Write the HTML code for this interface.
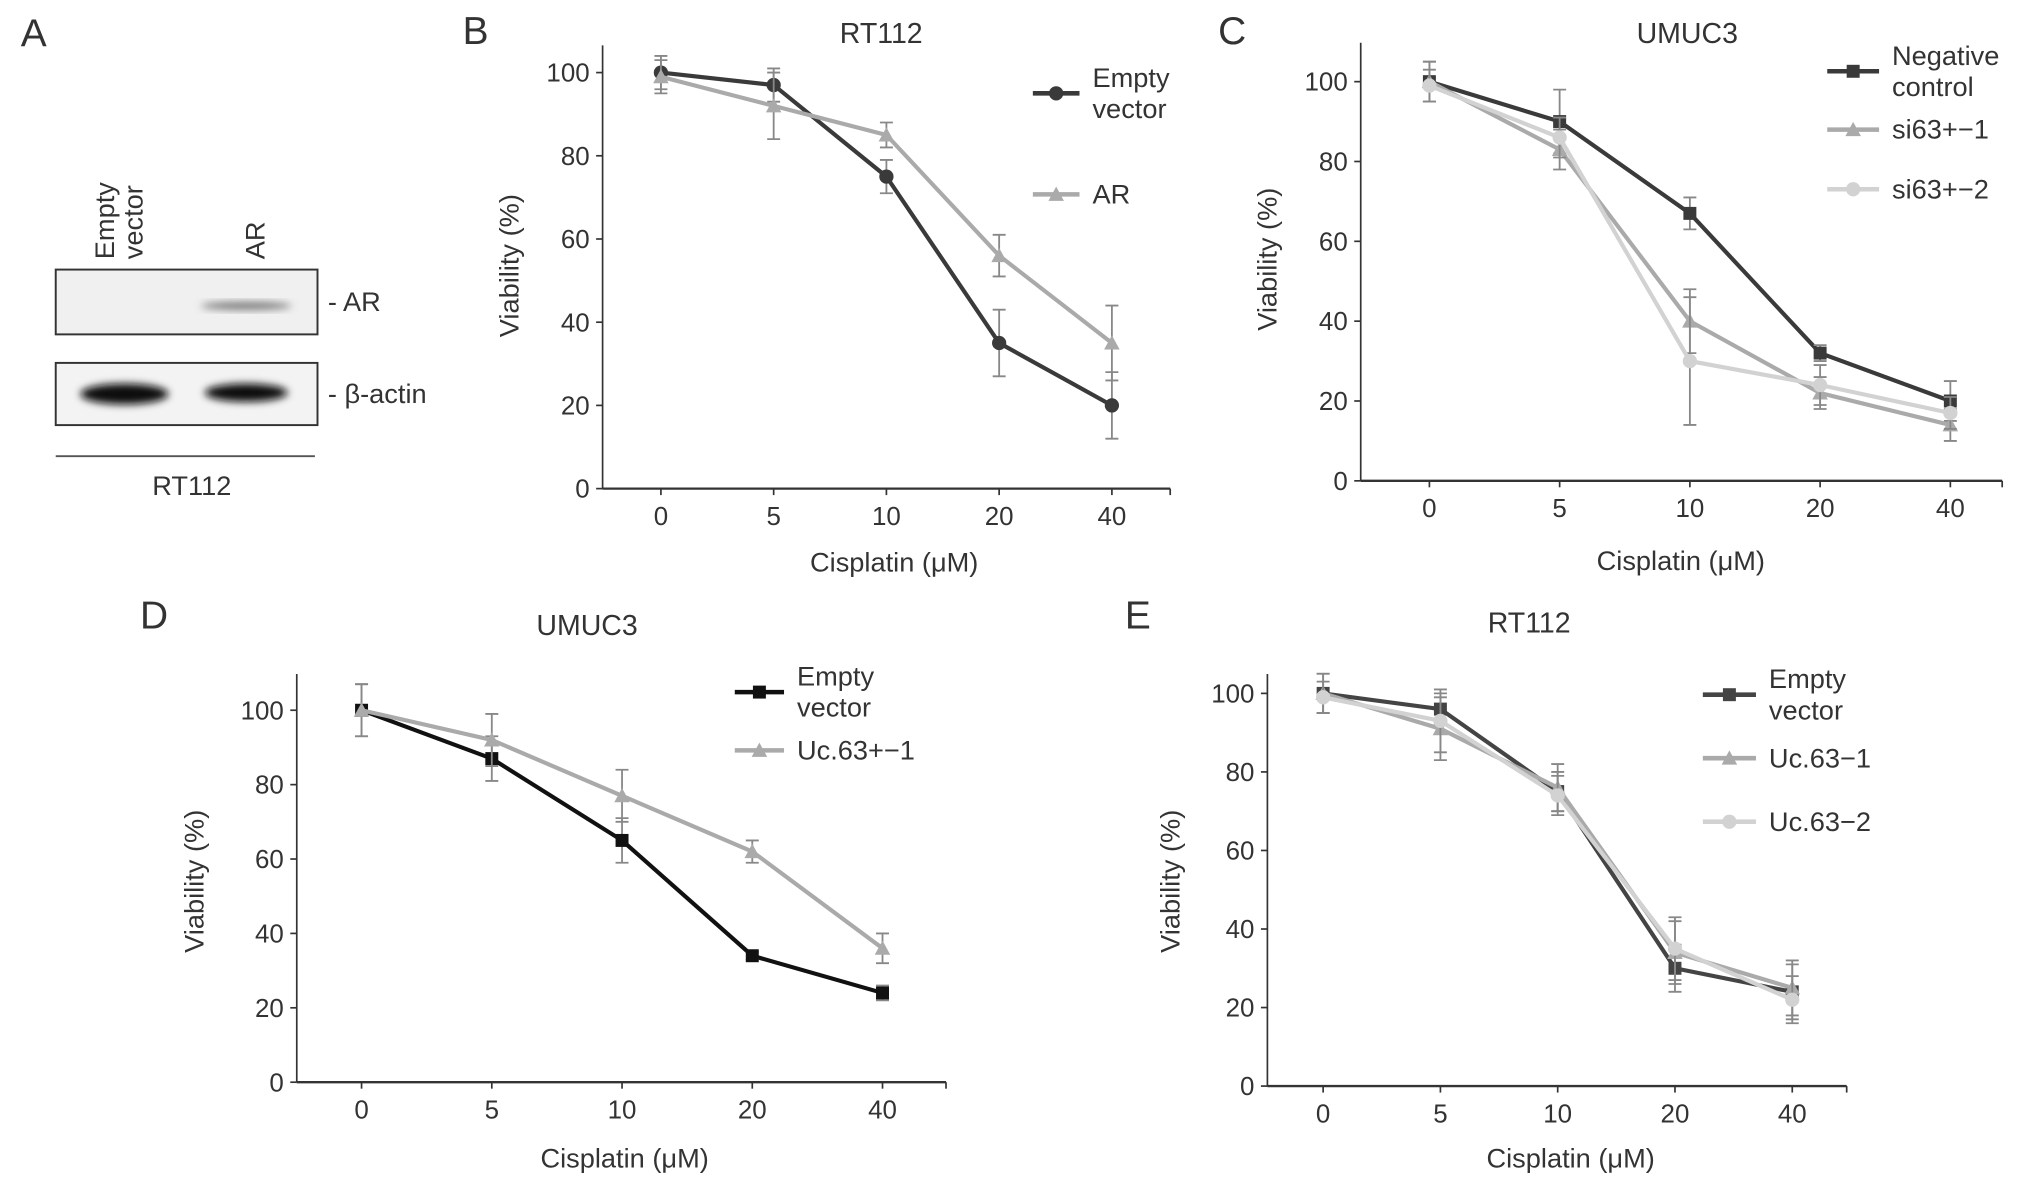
<!DOCTYPE html>
<html><head><meta charset="utf-8"><style>
html,body{margin:0;padding:0;background:#fff;}
svg{display:block;font-family:"Liberation Sans",sans-serif;}
</style></head><body>
<svg id="fig" width="2032" height="1182" viewBox="0 0 1568 912" preserveAspectRatio="none" xmlns="http://www.w3.org/2000/svg">
<defs>
<filter id="blur" x="-20%" y="-50%" width="140%" height="200%"><feGaussianBlur stdDeviation="3"/></filter>
</defs>
<g>
<text x="16" y="36" font-size="30" fill="#333">A</text>
<text transform="translate(88,200) rotate(-90)" font-size="21" fill="#333">Empty</text>
<text transform="translate(110,200) rotate(-90)" font-size="21" fill="#333">vector</text>
<text transform="translate(204,200) rotate(-90)" font-size="21" fill="#333">AR</text>
<rect x="43" y="208" width="202" height="50" fill="#f0f0f0" stroke="#333" stroke-width="1.5"/>
<ellipse cx="190" cy="236" rx="35" ry="3" fill="#777" filter="url(#blur)"/>
<rect x="43" y="280" width="202" height="48" fill="#f3f3f3" stroke="#333" stroke-width="1.5"/>
<ellipse cx="96" cy="304" rx="34" ry="8" fill="#111" filter="url(#blur)"/>
<ellipse cx="190" cy="303" rx="32" ry="7" fill="#111" filter="url(#blur)"/>
<text x="253" y="240" font-size="21" fill="#333">- AR</text>
<text x="253" y="311" font-size="21" fill="#333">- β-actin</text>
<line x1="43" y1="352" x2="243" y2="352" stroke="#555" stroke-width="1.5"/>
<text x="148" y="382" font-size="21" fill="#333" text-anchor="middle">RT112</text>
</g>
</svg>
<script>
const xCats=["0","5","10","20","40"];
const yTicks=[0,20,40,60,80,100];
// Panel B
const bEmpty=[100,97,75,35,20];
const bEmptyErr=[4,4,4,8,8];
const bAR=[99,92,85,56,35];
const bARErr=[4,8,3,5,9];
// Panel C
const cNeg=[100,90,67,32,20];
const cNegErr=[5,8,4,2,5];
const cSi1=[100,83,40,22,14];
const cSi1Err=[5,5,8,4,4];
const cSi2=[99,86,30,24,17];
const cSi2Err=[4,5,16,5,4];
// Panel D
const dEmpty=[100,87,65,34,24];
const dEmptyErr=[7,6,6,1,2];
const dUc=[100,92,77,62,36];
const dUcErr=[7,7,7,3,4];
// Panel E
const eEmpty=[100,96,75,30,24];
const eEmptyErr=[5,4,5,6,7];
const eUc1=[100,91,76,34,25];
const eUc1Err=[5,8,6,8,7];
const eUc2=[99,93,74,35,22];
const eUc2Err=[4,8,5,8,6];

const NS="http://www.w3.org/2000/svg";
const svg=document.getElementById('fig');
function mk(tag,attrs,parent,txt){const e=document.createElementNS(NS,tag);for(const k in attrs)e.setAttribute(k,attrs[k]);if(txt!==undefined)e.textContent=txt;parent.appendChild(e);return e;}

function panel(cfg){
  const g=mk('g',{},svg);
  
  
  const y=v=>cfg.y0-(v/100)*(cfg.y0-cfg.y100);
  const x=i=>cfg.xs[0]+i*(cfg.xs[1]-cfg.xs[0])/4;
  let t=mk('text',{x:cfg.letter[0],y:cfg.letter[1],'font-size':30,fill:'#333'},g,cfg.id.toUpperCase());
  
  
  t=mk('text',{x:cfg.title[0],y:cfg.title[1],'font-size':22,fill:'#333','text-anchor':'middle'},g,cfg.titleText);
  
  
  let l=mk('line',{x1:cfg.ax,y1:cfg.top,x2:cfg.ax,y2:cfg.y0,stroke:'#333','stroke-width':1.3},g);
  
  
  l=mk('line',{x1:cfg.ax,y1:cfg.y0,x2:cfg.right,y2:cfg.y0,stroke:'#333','stroke-width':1.8},g);
  
  
  yTicks.forEach(v=>{
    const tl=mk('line',{x1:cfg.ax-5,y1:y(v),x2:cfg.ax,y2:y(v),stroke:'#333','stroke-width':1.3},g);
    
    
    const tt=mk('text',{x:cfg.ax-10,y:y(v)+7,'font-size':20,fill:'#333','text-anchor':'end'},g,v);
    
    
  });
  xCats.forEach((c,i)=>{
    const tl=mk('line',{x1:x(i),y1:cfg.y0,x2:x(i),y2:cfg.y0+5,stroke:'#333','stroke-width':1.3},g);
    
    
    const tt=mk('text',{x:x(i),y:cfg.y0+28,'font-size':20,fill:'#333','text-anchor':'middle'},g,c);
    
    
  });
  l=mk('line',{x1:cfg.right,y1:cfg.y0,x2:cfg.right,y2:cfg.y0+5,stroke:'#333','stroke-width':1.3},g);
  
  
  t=mk('text',{transform:`translate(${cfg.ylab[0]},${cfg.ylab[1]}) rotate(-90)`,'font-size':21,fill:'#333','text-anchor':'middle'},g,'Viability (%)');
  
  
  t=mk('text',{x:cfg.xlab[0],y:cfg.xlab[1],'font-size':21,fill:'#333','text-anchor':'middle'},g,'Cisplatin (μM)');
  
  
  cfg.series.forEach(s=>{
    const sg=mk('g',{},g);
    
    
    const pts=s.vals.map((v,i)=>x(i)+','+y(v)).join(' ');
    const pl=mk('polyline',{points:pts,fill:'none',stroke:s.color,'stroke-width':3.2},sg);
    
    
    s.vals.forEach((v,i)=>{
      const e=s.err[i],cx=x(i);
      const eb=mk('path',{d:`M${cx},${y(v+e)}V${y(v-e)}M${cx-5},${y(v+e)}h10M${cx-5},${y(v-e)}h10`,stroke:s.ecolor||'#888','stroke-width':1.4,fill:'none'},sg);
      
      
      const m=marker(sg,s,cx,y(v));
      
      
    });
    const lg=mk('g',{},g);
    
    
    mk('line',{x1:cfg.leg[0],y1:s.ly,x2:cfg.leg[1],y2:s.ly,stroke:s.color,'stroke-width':3.5},lg);
    marker(lg,s,(cfg.leg[0]+cfg.leg[1])/2,s.ly);
    s.label.forEach((txt,k)=>{
      mk('text',{x:cfg.leg[1]+10,y:s.ly+7+(s.label.length>1?(k===0?-12:12):0),'font-size':21,fill:'#333'},lg,txt);
    });
  });
}
function marker(p,s,cx,cy){
  if(s.shape==='circle')return mk('circle',{cx:cx,cy:cy,r:5.5,fill:s.color},p);
  if(s.shape==='square')return mk('rect',{x:cx-5,y:cy-5,width:10,height:10,fill:s.color},p);
  return mk('polygon',{points:`${cx},${cy-6} ${cx+6},${cy+5} ${cx-6},${cy+5}`,fill:s.color},p);
}
const DARK='#3a3a3a',MID='#aaaaaa',LIGHT='#d2d2d2';
panel({id:'b',titleText:'RT112',letter:[357,34],title:[680,33],ax:465,top:35,y0:377,y100:56,right:903,xs:[510,858],ylab:[400,205],xlab:[690,441],leg:[797,833],
 series:[{key:'empty-vector',vals:bEmpty,err:bEmptyErr,color:DARK,shape:'circle',label:['Empty','vector'],ly:72},
         {key:'ar',vals:bAR,err:bARErr,color:MID,shape:'tri',label:['AR'],ly:150}]});
panel({id:'c',titleText:'UMUC3',letter:[940,34],title:[1302,33],ax:1050,top:33,y0:371,y100:63,right:1545,xs:[1103,1505],ylab:[985,200],xlab:[1297,440],leg:[1410,1450],
 series:[{key:'negative-control',vals:cNeg,err:cNegErr,color:DARK,shape:'square',label:['Negative','control'],ly:55},
         {key:'si63-1',vals:cSi1,err:cSi1Err,color:MID,shape:'tri',label:['si63+−1'],ly:100},
         {key:'si63-2',vals:cSi2,err:cSi2Err,color:LIGHT,shape:'circle',label:['si63+−2'],ly:146}]});
panel({id:'d',titleText:'UMUC3',letter:[108,485],title:[453,490],ax:229,top:520,y0:835,y100:548,right:730,xs:[279,681],ylab:[157,680],xlab:[482,901],leg:[567,605],
 series:[{key:'empty-vector',vals:dEmpty,err:dEmptyErr,color:'#111',shape:'square',label:['Empty','vector'],ly:534},
         {key:'uc63-1',vals:dUc,err:dUcErr,color:MID,shape:'tri',label:['Uc.63+−1'],ly:579}]});
panel({id:'e',titleText:'RT112',letter:[868,485],title:[1180,488],ax:978,top:520,y0:838,y100:535,right:1425,xs:[1021,1383],ylab:[910,680],xlab:[1212,901],leg:[1314,1355],
 series:[{key:'empty-vector',vals:eEmpty,err:eEmptyErr,color:'#444',shape:'square',label:['Empty','vector'],ly:536},
         {key:'uc63-1',vals:eUc1,err:eUc1Err,color:MID,shape:'tri',label:['Uc.63−1'],ly:585},
         {key:'uc63-2',vals:eUc2,err:eUc2Err,color:LIGHT,shape:'circle',label:['Uc.63−2'],ly:634}]});
</script>
</body></html>
